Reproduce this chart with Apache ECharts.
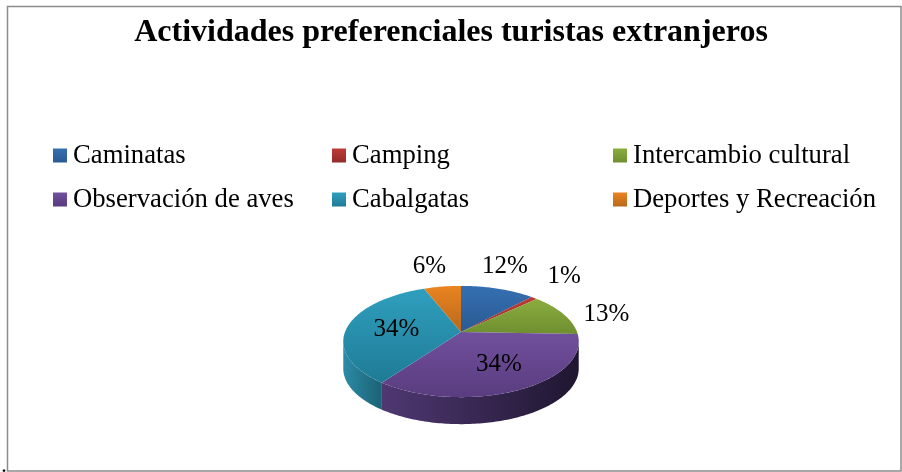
<!DOCTYPE html>
<html><head><meta charset="utf-8">
<script src="https://cdn.jsdelivr.net/npm/echarts@6/dist/echarts.min.js"></script>
<style>html,body{margin:0;padding:0;background:#fff}#c{width:902px;height:472px}</style>
</head><body><div id="c"></div>
<script>
const titleText = 'Actividades preferenciales turistas extranjeros';
const categories = ['Caminatas','Camping','Intercambio cultural','Observación de aves','Cabalgatas','Deportes y Recreación'];
const shares = [12, 1, 12.6, 34.4, 34, 6];
const topLight = ['#356fb2','#bd3a36','#8aad3e','#70509c','#2f9fbe','#ea8420'];
const topDark  = ['#2a5a92','#952c2a','#6f8e30','#5a3c80','#1f7b96','#b9681c'];
const wallLight = ['#2a5a92','#952c2a','#6f8e30','#4f3872','#2c8ba6','#b9681c'];
const wallDark  = ['#1c3d63','#661e1c','#4b601f','#1f1630','#1b6276','#7e4712'];
const legendSpots = [[53,142],[332,142],[613,142],[53,186],[332,186],[613,186]];
const labelOffsets = [[7,-22],[30,-21],[43,0],[-22,-25],[48,4],[-13,-20]];
const CX=461, CY=332, RX=116, RY=54, DEPTH=27, PERSP=0.171;
const total = shares.reduce((a,b)=>a+b,0);
function project(deg){
  const t=deg*Math.PI/180, u=Math.sin(t), v=-Math.cos(t), w=1-PERSP*v;
  return [CX+RX*u/w, CY+RY*v/w];
}
function grad(a,b,horizontal){
  return {type:'linear',x:0,y:0,x2:horizontal?1:0,y2:horizontal?0:1,
    colorStops:[{offset:0,color:a},{offset:1,color:b}]};
}
function makeSeries(i){
  const before=shares.slice(0,i).reduce((a,b)=>a+b,0);
  return {
    name:categories[i], type:'custom', coordinateSystem:'none', silent:true, clip:false,
    data:[[shares[i]]],
    itemStyle:{color:topLight[i]},
    renderItem(params,api){
      const val=api.value(0);
      const a0=before/total*360, a1=(before+val)/total*360;
      const top=[[CX,CY]];
      const n=Math.max(2,Math.ceil(a1-a0));
      for(let k=0;k<=n;k++) top.push(project(a0+(a1-a0)*k/n));
      const children=[];
      const s=Math.max(a0,90+Math.asin(PERSP)*180/Math.PI), e=Math.min(a1,270-Math.asin(PERSP)*180/Math.PI);
      if(e>s){
        const upper=[],lower=[];
        const m=Math.ceil(e-s);
        for(let k=0;k<=m;k++){const p=project(s+(e-s)*k/m);upper.push(p);lower.unshift([p[0],p[1]+DEPTH]);}
        children.push({type:'polygon',shape:{points:upper.concat(lower)},
          style:{fill:grad(wallLight[i],wallDark[i],true)}});
      }
      children.push({type:'polygon',shape:{points:top},style:{fill:grad(topLight[i],topDark[i],false)}});
      const mid=project((a0+a1)/2);
      children.push({type:'text',z2:10,style:{x:mid[0]+labelOffsets[i][0],y:mid[1]+labelOffsets[i][1],
        text:Math.round(val/total*100)+'%',align:'center',verticalAlign:'middle',
        font:'25px "Liberation Serif"',fill:'#000'}});
      return {type:'group',children};
    }
  };
}
const chart=echarts.init(document.getElementById('c'),null,{renderer:'canvas'});
chart.setOption({
  animation:false,
  backgroundColor:'#fff',
  title:{text:titleText,left:'center',top:12,
    textStyle:{fontFamily:'Liberation Serif',fontWeight:'bold',fontSize:32,color:'#000'}},
  legend:categories.map((c,i)=>({
    left:legendSpots[i][0],top:legendSpots[i][1],padding:0,
    itemWidth:14,itemHeight:14,itemGap:0,selectedMode:false,icon:'rect',
    data:[{name:c,itemStyle:{color:grad(topLight[i],topDark[i],false)}}],
    textStyle:{fontFamily:'Liberation Serif',fontSize:26.7,color:'#000',padding:[0,0,0,1]}
  })),
  graphic:[
    {type:'rect',silent:true,z:-1,shape:{x:7.5,y:6.5,width:893.5,height:464.5},
      style:{fill:'none',stroke:'#8c8c8c',lineWidth:1.5}},
    {type:'text',silent:true,style:{x:1,y:454,text:'.',font:'24px "Liberation Serif"',fill:'#000'}}
  ],
  series:categories.map((c,i)=>makeSeries(i))
});
</script></body></html>
